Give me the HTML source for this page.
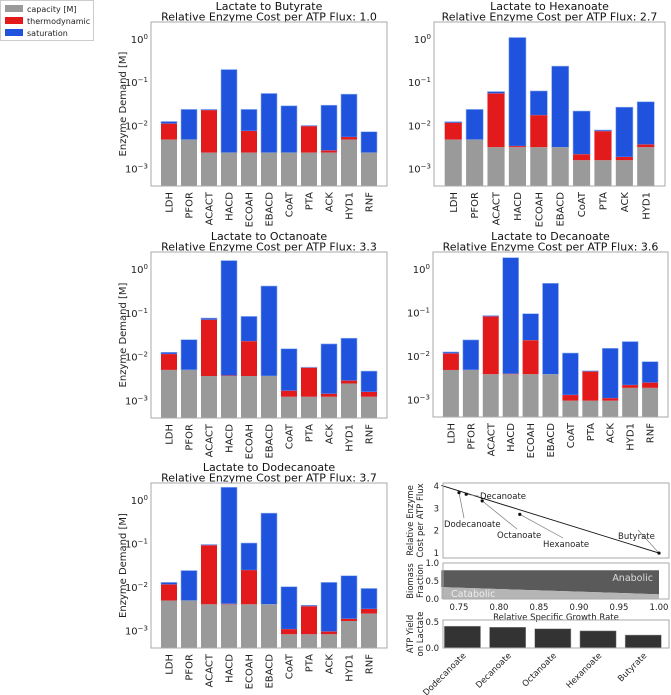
<!DOCTYPE html>
<html><head><meta charset="utf-8"><style>
body{margin:0;background:#fff;}
svg{display:block;font-family:"DejaVu Sans","Liberation Sans",sans-serif;}
</style></head><body>
<svg id="fig" width="671" height="695" viewBox="0 0 671 695" xmlns="http://www.w3.org/2000/svg">
<g>
<rect x="0.5" y="0.5" width="93" height="40" fill="#fff" stroke="#ccc"/>
<rect x="5" y="5" width="18" height="7" fill="#9a9a9a"/>
<text x="27" y="12" font-size="8" fill="#222">capacity [M]</text>
<rect x="5" y="17" width="18" height="7" fill="#e31a1c"/>
<text x="27" y="24" font-size="8" fill="#222">thermodynamic</text>
<rect x="5" y="29" width="18" height="7" fill="#1f52dd"/>
<text x="27" y="36" font-size="8" fill="#222">saturation</text>
</g>
</svg>
<script>
const cats11 = ["LDH","PFOR","ACACT","HACD","ECOAH","EBACD","CoAT","PTA","ACK","HYD1","RNF"];
const cats10 = ["LDH","PFOR","ACACT","HACD","ECOAH","EBACD","CoAT","PTA","ACK","HYD1"];
const capButyrate = [0.0048,0.0048,0.0024,0.0024,0.0024,0.0024,0.0024,0.0024,0.0024,0.0048,0.0024];
const thermoButyrate = [0.0112,0.0048,0.023,0.0024,0.0076,0.0024,0.0024,0.0098,0.0027,0.0055,0.0024];
const satButyrate = [0.0126,0.024,0.024,0.2,0.024,0.056,0.029,0.0102,0.030,0.054,0.0073];
const capHexanoate = [0.0048,0.0048,0.0032,0.0032,0.0032,0.0032,0.0016,0.0016,0.0016,0.0032];
const thermoHexanoate = [0.0117,0.0048,0.056,0.0034,0.0176,0.0032,0.0022,0.0075,0.0019,0.0037];
const satHexanoate = [0.0125,0.024,0.062,1.1,0.064,0.24,0.022,0.0080,0.027,0.036];
const capOctanoate = [0.0051,0.0051,0.0037,0.0037,0.0037,0.0037,0.00124,0.00124,0.00124,0.0025,0.00124];
const thermoOctanoate = [0.0117,0.0051,0.071,0.0038,0.023,0.0037,0.0017,0.0057,0.00145,0.0029,0.0016];
const satOctanoate = [0.0129,0.025,0.078,1.6,0.085,0.42,0.0155,0.0059,0.020,0.027,0.0048];
const capDecanoate = [0.0049,0.0049,0.0039,0.0039,0.0039,0.0039,0.00096,0.00096,0.00096,0.0019,0.0019];
const thermoDecanoate = [0.0117,0.0049,0.083,0.004,0.0235,0.0039,0.0013,0.0045,0.0011,0.0022,0.0025];
const satDecanoate = [0.0127,0.024,0.087,1.86,0.096,0.48,0.012,0.0047,0.0154,0.022,0.0076];
const capDodecanoate = [0.005,0.005,0.0041,0.0041,0.0041,0.0041,0.00084,0.00084,0.00084,0.0017,0.0025];
const thermoDodecanoate = [0.0117,0.005,0.093,0.0042,0.025,0.0041,0.0011,0.0037,0.00097,0.0019,0.0032];
const satDodecanoate = [0.0131,0.0245,0.097,2.0,0.105,0.51,0.0104,0.0039,0.0131,0.0186,0.0095];
const yTickExps = [0,-1,-2,-3];
const productNames = ["Dodecanoate","Decanoate","Octanoate","Hexanoate","Butyrate"];
const growthRate = [0.75,0.759,0.779,0.826,1.0];
const enzymeCost = [3.7,3.63,3.33,2.73,1.0];
const fitX = [0.728,1.0];
const fitY = [4.02,1.0];
const biomassX = [0.728,1.0];
const catabolicFrac = [0.33,0.13];
const anabolicFrac = [0.8,0.8];
const atpYield = [0.42,0.40,0.37,0.33,0.25];
const growthTicks = [0.75,0.80,0.85,0.90,0.95,1.00];
const costTicks = [1,2,3,4];

const NS="http://www.w3.org/2000/svg";
const svg=document.getElementById('fig');
function el(tag,attrs,parent,txt){const e=document.createElementNS(NS,tag);for(const k in attrs)e.setAttribute(k,attrs[k]);if(txt!==undefined)e.textContent=txt;(parent||svg).appendChild(e);return e;}

function enzymePanel(key,title,sub,cats,cap,thermo,sat,L,R,T,B,showYLabel){
  const g=el('g',{});
  
  
  const lo=-3.39,hi=0.4;
  const y=v=>B-(Math.log10(v)-lo)/(hi-lo)*(B-T);
  const n=cats.length;
  const x=i=>L+(i+0.9)/(n+0.8)*(R-L);
  const bw=0.8/(n+0.8)*(R-L);
  const cx=(L+R)/2;
  const t1=el('text',{x:cx,y:T-12,'font-size':11,'text-anchor':'middle',fill:'#111'},g,title);
  
  
  const t2=el('text',{x:cx,y:T-1.5,'font-size':11,'text-anchor':'middle',fill:'#111'},g,sub);
  
  
  for(let i=0;i<n;i++){
    const bx=x(i)-bw/2;
    const yc=Math.min(B,y(cap[i])),yt=Math.min(B,y(thermo[i])),ys=Math.min(B,y(sat[i]));
    const bs=el('rect',{x:bx,y:ys,width:bw,height:Math.max(0,yt-ys),fill:'#1f52dd',stroke:'#8fb0f0','stroke-width':0.6},g);
    
    
    const br=el('rect',{x:bx,y:yt,width:bw,height:Math.max(0,yc-yt),fill:'#e31a1c'},g);
    
    
    const bc=el('rect',{x:bx,y:yc,width:bw,height:Math.max(0,B-yc),fill:'#9a9a9a'},g);
    
    
    const tl=el('text',{transform:`translate(${x(i)+3.5},${B+6}) rotate(-90)`,'font-size':10,'text-anchor':'end',fill:'#222'},g,cats[i]);
    
    
  }
  const fr=el('rect',{x:L,y:T,width:R-L,height:B-T,fill:'none',stroke:'#aaa','stroke-width':1},g);
  
  
  for(const e of yTickExps){
    const yy=y(Math.pow(10,e));
    const tk=el('text',{x:L-3,y:yy+3.5,'font-size':10,'text-anchor':'end',fill:'#222'},g);
    
    
    el('tspan',{},tk,'10');
    el('tspan',{dy:-4,'font-size':7},tk,e===0?'0':'\u2212'+(-e));
  }
  if(showYLabel){
    const yl=el('text',{transform:`translate(${L-25},${(T+B)/2}) rotate(-90)`,'font-size':10,'text-anchor':'middle',fill:'#222'},g,'Enzyme Demand [M]');
    
    
  }
}
enzymePanel('butyrate','Lactate to Butyrate','Relative Enzyme Cost per ATP Flux: 1.0',cats11,capButyrate,thermoButyrate,satButyrate,151,387,22,186,true);
enzymePanel('hexanoate','Lactate to Hexanoate','Relative Enzyme Cost per ATP Flux: 2.7',cats10,capHexanoate,thermoHexanoate,satHexanoate,434,665,22,186,false);
enzymePanel('octanoate','Lactate to Octanoate','Relative Enzyme Cost per ATP Flux: 3.3',cats11,capOctanoate,thermoOctanoate,satOctanoate,151,387,252,418,true);
enzymePanel('decanoate','Lactate to Decanoate','Relative Enzyme Cost per ATP Flux: 3.6',cats11,capDecanoate,thermoDecanoate,satDecanoate,433,668,252,417,false);
enzymePanel('dodecanoate','Lactate to Dodecanoate','Relative Enzyme Cost per ATP Flux: 3.7',cats11,capDodecanoate,thermoDodecanoate,satDodecanoate,151,387,483,648,true);

const FS=8.5;
const L2=443,R2=669;
const gx=v=>L2+(v-0.73)/(1.0125-0.73)*(R2-L2);
function twoLine(parent,name,cx,cyy,a,b){
  const t=el('text',{transform:`translate(${cx},${cyy}) rotate(-90)`,'font-size':FS,'text-anchor':'middle',fill:'#222'},parent);
  
  
  el('tspan',{x:0,dy:0},t,a);el('tspan',{x:0,dy:10},t,b);
}
// cost plot
const cT=483,cB=558, cy=v=>cB-(v-0.78)/(4.13-0.78)*(cB-cT);
const gc=el('g',{});


const fl=el('line',{x1:gx(fitX[0]),y1:cy(fitY[0]),x2:gx(fitX[1]),y2:cy(fitY[1]),stroke:'#111','stroke-width':0.9},gc);


const labelPos=[[444,527],[480,499],[497,538],[543,547],[618,539]];
for(let i=0;i<productNames.length;i++){
  const px=gx(growthRate[i]),py=cy(enzymeCost[i]);
  const lp=labelPos[i];
  const ax=lp[0]+ (i===1?-2:20), ay=lp[1]+(i===1?-3:-9);
  const ar=el('line',{x1:ax,y1:ay,x2:px,y2:py,stroke:'#777','stroke-width':0.7},gc);
  
  
  const pt=el('circle',{cx:px,cy:py,r:1.6,fill:'#111'},gc);
  
  
  const tx=el('text',{x:lp[0],y:lp[1],'font-size':FS,fill:'#222'},gc,productNames[i]);
  
  
}
el('rect',{x:L2,y:cT,width:R2-L2,height:cB-cT,fill:'none',stroke:'#aaa'},gc);
for(const t of costTicks){const tk=el('text',{x:L2-4,y:cy(t)+3,'font-size':FS,'text-anchor':'end',fill:'#222'},gc,String(t));

}
twoLine(gc,'cost-y-axis-title',413,(cT+cB)/2,'Relative Enzyme','Cost per ATP Flux');

// biomass plot
const bT=563,bB=599, by=v=>bB-v*(bB-bT);
const gb=el('g',{});


const an=el('polygon',{points:`${gx(biomassX[0])},${by(anabolicFrac[0])} ${gx(biomassX[1])},${by(anabolicFrac[1])} ${gx(biomassX[1])},${by(catabolicFrac[1])} ${gx(biomassX[0])},${by(catabolicFrac[0])}`,fill:'#5a5a5a'},gb);


const ca=el('polygon',{points:`${gx(biomassX[0])},${by(catabolicFrac[0])} ${gx(biomassX[1])},${by(catabolicFrac[1])} ${gx(biomassX[1])},${by(0)} ${gx(biomassX[0])},${by(0)}`,fill:'#b5b5b5'},gb);


const at=el('text',{x:653,y:581,'font-size':9.5,'text-anchor':'end',fill:'#ddd'},gb,'Anabolic');


const ct=el('text',{x:451,y:597,'font-size':9.5,fill:'#eee'},gb,'Catabolic');


el('rect',{x:L2,y:bT,width:R2-L2,height:bB-bT,fill:'none',stroke:'#aaa'},gb);
for(const t of [0,0.5,1.0]){const tk=el('text',{x:L2-4,y:by(t)+3,'font-size':FS,'text-anchor':'end',fill:'#222'},gb,t.toFixed(1));

}
for(const t of growthTicks){const tk=el('text',{x:gx(t),y:bB+11,'font-size':FS,'text-anchor':'middle',fill:'#222'},gb,t.toFixed(2));

}
const gxl=el('text',{x:(L2+R2)/2,y:bB+21,'font-size':FS,'text-anchor':'middle',fill:'#222'},gb,'Relative Specific Growth Rate');


twoLine(gb,'biomass-y-axis-title',413,(bT+bB)/2,'Biomass','Fraction');

// ATP yield bars
const aT=620,aB=648, ay=v=>aB-v/0.54*(aB-aT);
const ax=i=>L2+(i+0.43)/5.0*(R2-L2);
const abw=0.8/5.0*(R2-L2);
const ga=el('g',{});


for(let i=0;i<atpYield.length;i++){
  const r=el('rect',{x:ax(i)-abw/2,y:ay(atpYield[i]),width:abw,height:aB-ay(atpYield[i]),fill:'#333',stroke:'#999','stroke-width':0.5},ga);
  
  
  const tl=el('text',{transform:`translate(${ax(i)+4},${aB+8}) rotate(-45)`,'font-size':FS,'text-anchor':'end',fill:'#222'},ga,productNames[i]);
  
  
}
el('rect',{x:L2,y:aT,width:R2-L2,height:aB-aT,fill:'none',stroke:'#aaa'},ga);
for(const t of [0,0.5]){const tk=el('text',{x:L2-4,y:ay(t)+3,'font-size':FS,'text-anchor':'end',fill:'#222'},ga,t.toFixed(1));

}
twoLine(ga,'atp-y-axis-title',413,(aT+aB)/2,'ATP Yield','on Lactate');
</script>
</body></html>
